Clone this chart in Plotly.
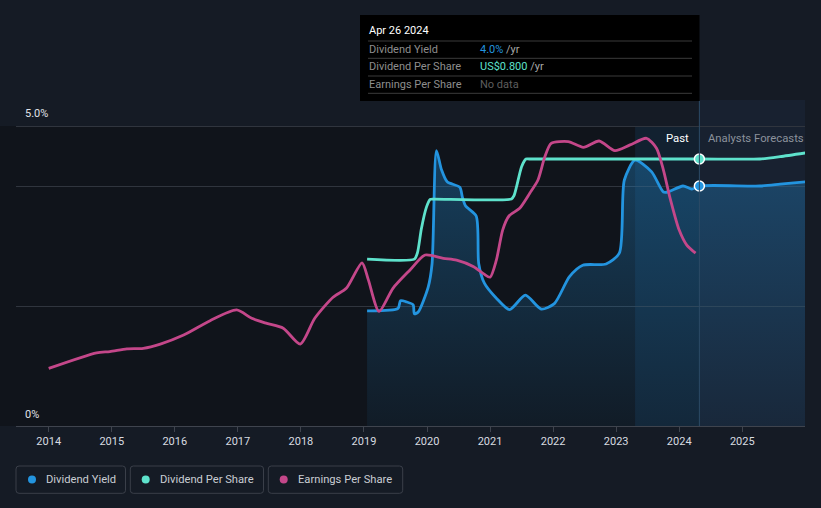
import plotly.graph_objects as go

# ---------------- data ----------------
years = [2014, 2015, 2016, 2017, 2018, 2019, 2020, 2021, 2022, 2023, 2024, 2025]
year_labels = [str(y) for y in years]

yield_x = [2019.05, 2019.54, 2019.58, 2019.67, 2019.78, 2019.80, 2019.86, 2020.02, 2020.08,
           2020.15, 2020.23, 2020.32, 2020.52, 2020.56, 2020.61, 2020.78, 2020.82, 2020.91,
           2021.10, 2021.31, 2021.56, 2021.81, 2022.02, 2022.26, 2022.47, 2022.84, 2023.05,
           2023.13, 2023.30, 2023.56, 2023.75, 2023.82, 2024.06, 2024.20, 2024.32,
           2025.28, 2025.60, 2026.00]
yield_pct = [1.92, 1.96, 2.09, 2.07, 2.02, 1.87, 1.90, 2.32, 2.70,
             4.59, 4.27, 4.07, 3.98, 3.82, 3.67, 3.50, 2.71, 2.38,
             2.13, 1.94, 2.18, 1.95, 2.04, 2.49, 2.68, 2.70, 2.88,
             4.10, 4.43, 4.24, 3.90, 3.90, 4.00, 3.95, 4.00,
             4.00, 4.03, 4.07]

dps_x = [2019.05, 2019.80, 2019.85, 2019.91, 2019.99, 2020.05, 2020.10, 2021.34, 2021.38,
         2021.42, 2021.50, 2021.57, 2021.62, 2024.32, 2025.28, 2025.60, 2026.00]
dps_usd = [0.50, 0.50, 0.52, 0.59, 0.655, 0.679, 0.68, 0.68, 0.69,
           0.717, 0.777, 0.80, 0.80, 0.80, 0.80, 0.807, 0.818]

eps_x = [2014.00, 2014.76, 2014.97, 2015.24, 2015.50, 2015.77, 2016.14, 2016.56, 2016.98,
         2017.22, 2017.46, 2017.72, 2017.99, 2018.22, 2018.51, 2018.72, 2018.97, 2019.07,
         2019.24, 2019.46, 2019.73, 2019.97, 2020.26, 2020.47, 2020.74, 2020.90, 2021.00,
         2021.10, 2021.20, 2021.30, 2021.47, 2021.63, 2021.76, 2021.87, 2021.97, 2022.24,
         2022.48, 2022.73, 2022.98, 2023.22, 2023.48, 2023.64, 2023.75, 2023.85, 2024.00,
         2024.12, 2024.26]
eps_usd = [0.192, 0.244, 0.248, 0.257, 0.259, 0.273, 0.303, 0.351, 0.387,
           0.359, 0.342, 0.326, 0.273, 0.359, 0.429, 0.459, 0.544, 0.487,
           0.382, 0.459, 0.520, 0.570, 0.559, 0.553, 0.531, 0.507, 0.496,
           0.553, 0.653, 0.700, 0.726, 0.776, 0.820, 0.898, 0.942, 0.948,
           0.929, 0.950, 0.918, 0.937, 0.959, 0.926, 0.853, 0.764, 0.653,
           0.603, 0.576]

tip_date = 2024.32
tip_yield = 4.0
tip_dps = 0.80

# ---------------- styling ----------------
BG = "#151b25"
PAST_BG = "#10141b"
FORE_BG = "#182130"
BLUE = "#2394df"
TEAL = "#5ee2cc"
PINK = "#c4478a"
FONT = "Roboto"
LW = 2.8

W, H = 821, 508
L, R, T, B = 16, 805, 100, 426
X0, X1 = 2014 + (16 - 48.7) / 63.05, 2014 + (805 - 48.7) / 63.05
Y_RANGE = [0, (B - T) / 60.0]
DPS_RANGE = [0, (B - T) / 333.75]
EPS_RANGE = [0, (B - T) / 300.0]


def px(xp):
    return (xp - L) / (R - L)


def py(yp):
    return (B - yp) / (B - T)


fig = go.Figure()

fig.add_trace(go.Scatter(
    x=yield_x, y=yield_pct, mode="lines", line=dict(color=BLUE, width=LW, shape="spline", smoothing=0.7),
    fill="tozeroy",
    fillgradient=dict(type="vertical", start=0, stop=5,
                      colorscale=[[0, "rgba(35,148,223,0.06)"], [1, "rgba(35,148,223,0.36)"]]),
    hoverinfo="skip", yaxis="y"))

fig.add_trace(go.Scatter(
    x=dps_x, y=dps_usd, mode="lines", line=dict(color=TEAL, width=LW, shape="spline", smoothing=0.6),
    hoverinfo="skip", yaxis="y2"))

fig.add_trace(go.Scatter(
    x=eps_x, y=eps_usd, mode="lines", line=dict(color=PINK, width=LW, shape="spline", smoothing=0.7),
    hoverinfo="skip", yaxis="y3"))

fig.add_trace(go.Scatter(
    x=[tip_date], y=[tip_dps], mode="markers",
    marker=dict(color=TEAL, size=10, line=dict(color="white", width=1.5)),
    hoverinfo="skip", yaxis="y2"))
fig.add_trace(go.Scatter(
    x=[tip_date], y=[tip_yield], mode="markers",
    marker=dict(color=BLUE, size=10, line=dict(color="white", width=1.5)),
    hoverinfo="skip", yaxis="y"))

shapes = []
# past dark background
shapes.append(dict(type="rect", xref="paper", yref="y", x0=-L / (R - L), x1=px(699.4), y0=0, y1=5.0,
                   fillcolor=PAST_BG, line=dict(width=0), layer="below"))
# forecast background
shapes.append(dict(type="rect", xref="x", yref="paper", x0=tip_date, x1=X1, y0=0, y1=1,
                   fillcolor=FORE_BG, line=dict(width=0), layer="below"))
# last-year highlight band
shapes.append(dict(type="rect", xref="x", yref="y", x0=2023.30, x1=tip_date, y0=0, y1=5.0,
                   fillcolor="rgba(35,120,190,0.13)", line=dict(width=0), layer="below"))
# vertical line at tooltip date
shapes.append(dict(type="line", xref="x", yref="paper", x0=tip_date, x1=tip_date, y0=0, y1=py(101),
                   line=dict(color="#2c4a66", width=1)))

# tooltip box
shapes.append(dict(type="rect", xref="paper", yref="paper", x0=px(360), x1=px(699.5), y0=py(101), y1=py(15),
                   fillcolor="#000000", line=dict(width=0)))
for yy in [41, 58.3, 76, 93.3]:
    shapes.append(dict(type="line", xref="paper", yref="paper", x0=px(368), x1=px(692), y0=py(yy), y1=py(yy),
                       line=dict(color="#3b3b3b", width=1)))

annotations = []


def txt(x, y, text, color, size=11, anchor="left"):
    annotations.append(dict(xref="paper", yref="paper", x=px(x), y=py(y), text=text, showarrow=False,
                            xanchor=anchor, yanchor="middle", font=dict(family=FONT, size=size, color=color)))


txt(367, 31, "Apr 26 2024", "#ffffff", 11)
txt(367, 49.5, "Dividend Yield", "#8e8e8e")
txt(367, 67, "Dividend Per Share", "#8e8e8e")
txt(367, 84.5, "Earnings Per Share", "#8e8e8e")
txt(478, 49.5, f"<span style='color:{BLUE}'>4.0%</span> /yr", "#a8a8a8")
txt(478, 67, f"<span style='color:{TEAL}'>US$0.800</span> /yr", "#a8a8a8")
txt(478, 84.5, "No data", "#5e5e5e")

# y labels
txt(23, 114, "5.0%", "#e0e3e8", 11)
txt(23, 414, "0%", "#e0e3e8", 11)

# past / forecast labels
txt(691, 138, "Past", "#ffffff", 11.3, "right")
txt(706, 138, "Analysts Forecasts", "#8c929c", 11.3)

# legend
legend_items = [(16, 125.5, 32, "Dividend Yield", BLUE),
                (130.3, 263.5, 145.7, "Dividend Per Share", TEAL),
                (268.3, 402.7, 283.7, "Earnings Per Share", PINK)]
ly0, ly1 = 466, 493.3
for bx0, bx1, dx, label, col in legend_items:
    rx = 3 / (R - L)
    ry = 3 / (B - T)
    a0, a1 = px(bx0), px(bx1)
    b0, b1 = py(ly1), py(ly0)
    path = (f"M {a0 + rx},{b0} L {a1 - rx},{b0} Q {a1},{b0} {a1},{b0 + ry} "
            f"L {a1},{b1 - ry} Q {a1},{b1} {a1 - rx},{b1} L {a0 + rx},{b1} "
            f"Q {a0},{b1} {a0},{b1 - ry} L {a0},{b0 + ry} Q {a0},{b0} {a0 + rx},{b0} Z")
    shapes.append(dict(type="path", xref="paper", yref="paper", path=path,
                       line=dict(color="#3a3f49", width=1), fillcolor="rgba(0,0,0,0)"))
    shapes.append(dict(type="circle", xref="paper", yref="paper",
                       x0=px(dx - 4), x1=px(dx + 4), y0=py(479.5 + 4), y1=py(479.5 - 4),
                       fillcolor=col, line=dict(width=0)))
    txt(dx + 12, 479.5, label, "#c9cdd3", 11.2)

fig.update_layout(
    width=W, height=H,
    margin=dict(l=L, r=W - R, t=T, b=H - B),
    paper_bgcolor=BG, plot_bgcolor="rgba(0,0,0,0)",
    showlegend=False,
    font=dict(family=FONT),
    xaxis=dict(range=[X0, X1], tickmode="array", tickvals=years, ticktext=year_labels,
               showgrid=False, zeroline=False, showline=True, linecolor="#3f444e", linewidth=1,
               ticks="outside", ticklen=5, tickcolor="#3f444e",
               tickfont=dict(family=FONT, size=11, color="#d8dbe0"), fixedrange=True),
    yaxis=dict(range=Y_RANGE, tickmode="array", tickvals=[2, 4, 5], showticklabels=False,
               gridcolor="#30353e", gridwidth=1, zeroline=False, showline=False, fixedrange=True),
    yaxis2=dict(range=DPS_RANGE, overlaying="y", visible=False, fixedrange=True),
    yaxis3=dict(range=EPS_RANGE, overlaying="y", visible=False, fixedrange=True),
    shapes=shapes, annotations=annotations,
)

fig.write_html("out.html", config={"displayModeBar": False},
               post_script="document.body.style.margin='0';document.body.style.background='%s';" % BG)
